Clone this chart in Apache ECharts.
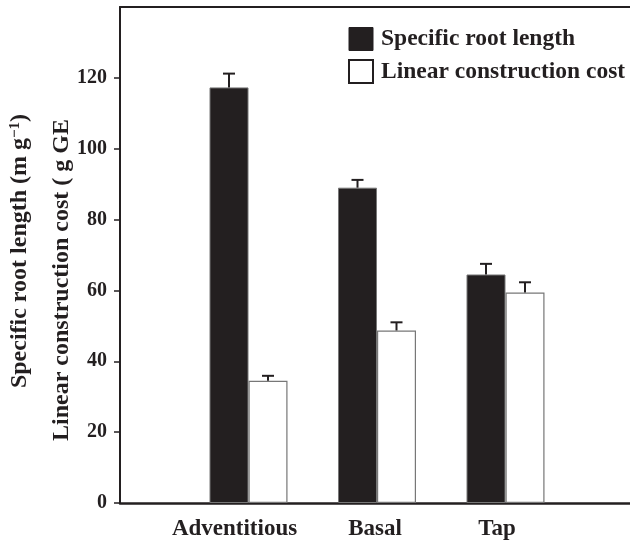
<!DOCTYPE html>
<html>
<head>
<meta charset="utf-8">
<script src="https://cdn.jsdelivr.net/npm/echarts@6/dist/echarts.min.js"></script>
<style>html,body{margin:0;padding:0;background:#fff;}#c{width:630px;height:550px;}</style>
</head>
<body>
<div id="c"></div>
<script>
const categories = ['Adventitious', 'Basal', 'Tap'];
const srlValues = [117.3, 89.0, 64.5];
const srlErrors = [3.9, 2.2, 3.0];
const lccValues = [34.5, 48.7, 59.4];
const lccErrors = [1.4, 2.3, 2.9];
const yTickValues = [0, 20, 40, 60, 80, 100, 120];
const seriesNames = ['Specific root length', 'Linear construction cost'];

const INK = '#231f20';
const FONT = "'Liberation Serif', 'Times New Roman', serif";
const BAR_W = 39;
const labelShift = [28, 4, 17];

// pad category axis with empty slots at both ends
const axisCats = [''].concat(categories.map((c, i) => ({ value: c, textStyle: { padding: [0, labelShift[i], 0, 0] } })), ['']);
const pad = arr => [null].concat(arr, [null]);

function errData(vals, errs) {
  return vals.map((v, i) => [i + 1, v, errs[i]]);
}
function errRender(dx) {
  return function (params, api) {
    const x = api.value(0), v = api.value(1), e = api.value(2);
    const base = api.coord([x, v]);
    const top = api.coord([x, v + e]);
    const cx = base[0] + dx;
    const st = { stroke: INK, lineWidth: 2 };
    return {
      type: 'group',
      children: [
        { type: 'line', shape: { x1: cx, y1: base[1], x2: cx, y2: top[1] }, style: st },
        { type: 'line', shape: { x1: cx - 6, y1: top[1], x2: cx + 6, y2: top[1] }, style: st }
      ]
    };
  };
}

const chart = echarts.init(document.getElementById('c'), null, { renderer: 'canvas' });
chart.setOption({
  animation: false,
  backgroundColor: '#fff',
  textStyle: { fontFamily: FONT },
  grid: { left: 120, width: 514, top: 7, bottom: 47, containLabel: false, outerBoundsMode: 'none' },
  legend: {
    orient: 'vertical',
    left: 348,
    top: 27,
    padding: 0,
    itemWidth: 24,
    itemHeight: 23,
    itemGap: 8,
    textStyle: { fontFamily: FONT, fontWeight: 'bold', fontSize: 23.5, lineHeight: 23, color: INK, padding: [0, 0, 0, 3] },
    data: [
      { name: seriesNames[0], icon: 'rect', itemStyle: { color: INK, borderColor: INK, borderWidth: 1 } },
      { name: seriesNames[1], icon: 'rect', itemStyle: { color: '#fff', borderColor: INK, borderWidth: 2 } }
    ]
  },
  xAxis: [
    {
      type: 'category',
      data: axisCats,
      boundaryGap: false,
      axisLine: { show: true, lineStyle: { color: INK, width: 2.5 } },
      axisTick: { show: false },
      splitLine: { show: false },
      axisLabel: { color: INK, fontFamily: FONT, fontWeight: 'bold', fontSize: 23, margin: 15, interval: 0 }
    },
    {
      type: 'category',
      data: axisCats,
      boundaryGap: false,
      position: 'top',
      axisLine: { show: true, lineStyle: { color: INK, width: 2 } },
      axisTick: { show: false },
      axisLabel: { show: false },
      splitLine: { show: false }
    }
  ],
  yAxis: {
    type: 'value',
    min: 0,
    max: 140,
    interval: 20,
    axisLine: { show: true, lineStyle: { color: INK, width: 2 } },
    axisTick: { show: true, inside: false, length: 6, lineStyle: { color: INK, width: 1.5 }, customValues: yTickValues },
    splitLine: { show: false },
    axisLabel: { color: INK, fontFamily: FONT, fontWeight: 'bold', fontSize: 20, margin: 13, customValues: yTickValues }
  },
  graphic: [
    {
      type: 'text', x: 20, y: 251, rotation: Math.PI / 2,
      style: {
        text: '{a|Specific root length (m g}{s|−1}{a|)}',
        align: 'center', verticalAlign: 'middle',
        rich: {
          a: { fontFamily: FONT, fontWeight: 'bold', fontSize: 24, fill: INK },
          s: { fontFamily: FONT, fontWeight: 'bold', fontSize: 15, fill: INK, verticalAlign: 'top', padding: [0, 0, 10, 0] }
        }
      }
    },
    {
      type: 'text', x: 62, y: 280, rotation: Math.PI / 2,
      style: {
        text: 'Linear construction cost ( g GE',
        align: 'center', verticalAlign: 'middle',
        font: "bold 24px 'Liberation Serif', serif",
        fill: INK
      }
    }
  ],
  series: [
    {
      name: seriesNames[0], type: 'bar', data: pad(srlValues), barWidth: BAR_W, barGap: '0%',
      itemStyle: { color: INK, borderColor: '#777', borderWidth: 1 }
    },
    {
      name: seriesNames[1], type: 'bar', data: pad(lccValues), barWidth: BAR_W, barGap: '0%',
      itemStyle: { color: '#fff', borderColor: '#777', borderWidth: 1.2 }
    },
    { type: 'custom', renderItem: errRender(-BAR_W / 2), data: errData(srlValues, srlErrors), z: 5, silent: true },
    { type: 'custom', renderItem: errRender(BAR_W / 2), data: errData(lccValues, lccErrors), z: 5, silent: true }
  ]
});
</script>
</body>
</html>
